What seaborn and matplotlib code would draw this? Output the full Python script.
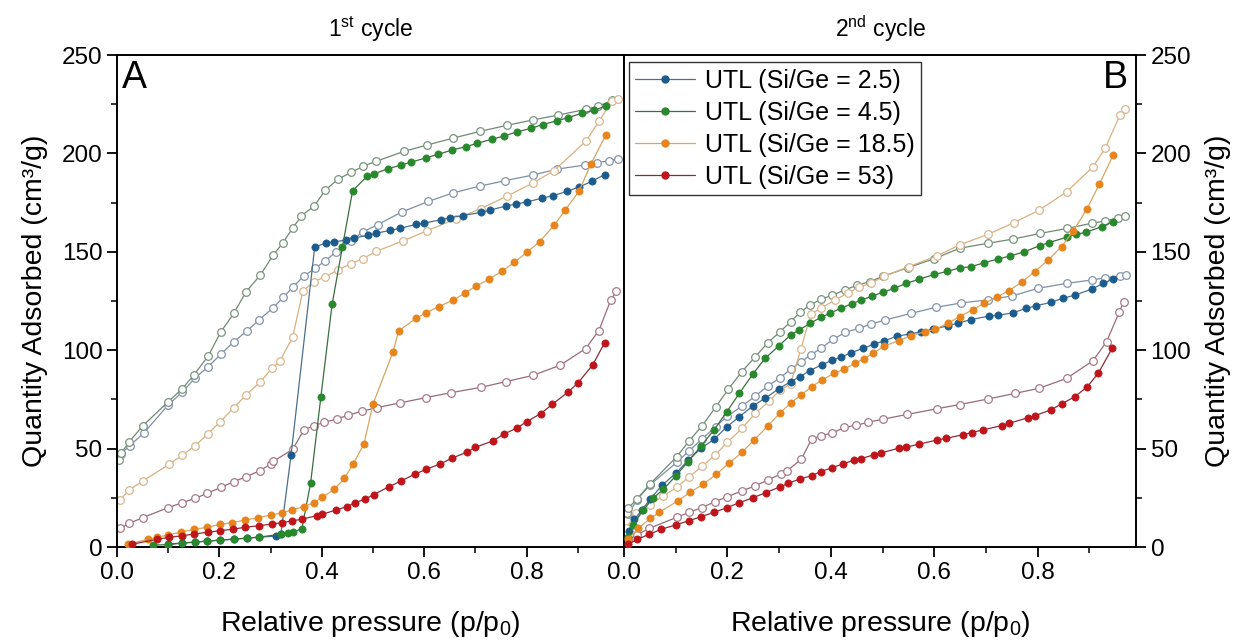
import numpy as np
import pandas as pd
import matplotlib
matplotlib.use("Agg")
import matplotlib.pyplot as plt
from matplotlib.lines import Line2D
from matplotlib.ticker import MultipleLocator
import seaborn as sns

# ---------------- data ----------------
samples = ["UTL (Si/Ge = 2.5)", "UTL (Si/Ge = 4.5)", "UTL (Si/Ge = 18.5)", "UTL (Si/Ge = 53)"]

# Panel A (1st cycle)
blue_ads_A_x = [0.10,0.127,0.153,0.176,0.202,0.228,0.254,0.277,0.31,0.32,0.34,0.386,0.409,0.424,0.447,0.463,0.49,0.505,0.534,0.552,0.584,0.60,0.633,0.65,0.675,0.71,0.729,0.76,0.779,0.80,0.829,0.851,0.879,0.903,0.927,0.952]
blue_ads_A_y = [1.5,2,2.5,3,3.5,4,4.5,5,5.5,6.5,47,152.4,154.6,155,156,157,158.4,159.4,160.9,161.9,163.9,164.6,166.3,167.3,168.4,170,171.2,173.3,174.3,175.3,177.2,178.5,180.7,183,185.8,189.2]
blue_des_A_x = [0.007,0.025,0.052,0.10,0.127,0.153,0.178,0.203,0.228,0.254,0.277,0.305,0.325,0.343,0.365,0.387,0.407,0.428,0.457,0.481,0.509,0.556,0.608,0.657,0.709,0.757,0.812,0.859,0.914,0.938,0.96,0.978]
blue_des_A_y = [47.3,51.5,57.8,72.2,78.6,86,91.6,98,104.3,109.8,115.3,121.6,126.9,132,137.7,141.6,145.5,150,155.6,160.2,163.8,170.2,175.6,180,183.4,186.1,189,192,194.1,195.3,196.3,197.3]

green_ads_A_x = [0.071,0.10,0.127,0.153,0.176,0.202,0.228,0.254,0.277,0.32,0.333,0.344,0.361,0.378,0.398,0.42,0.44,0.46,0.488,0.501,0.529,0.555,0.575,0.604,0.627,0.654,0.681,0.703,0.732,0.755,0.782,0.808,0.831,0.859,0.881,0.908,0.932,0.955]
green_ads_A_y = [1,1.2,2,2.5,3,3.5,4,4.5,5,6.5,7,7.5,9.3,32.4,76,123.3,152.2,181,188.3,189.5,192.2,194.1,195.6,197.8,199.5,201.7,203.4,205.1,207.2,208.8,211,212.7,214.6,216.6,218.2,220.4,222,224.1]
green_des_A_x = [0.004,0.008,0.024,0.05,0.10,0.127,0.15,0.178,0.203,0.228,0.252,0.28,0.305,0.324,0.343,0.36,0.385,0.407,0.432,0.457,0.481,0.506,0.56,0.606,0.657,0.709,0.762,0.812,0.862,0.916,0.939,0.967]
green_des_A_y = [44.2,47.6,53.5,61.5,73.8,80.3,87.4,97,109.4,118.7,129.7,138.2,148.4,154.6,162,168.2,173.3,181.4,187,190.3,193.5,196,201,204.3,207.8,211.2,214.3,217,219.5,222.4,223.9,227]

orange_ads_A_x = [0.022,0.061,0.078,0.10,0.124,0.15,0.176,0.202,0.225,0.25,0.276,0.301,0.323,0.341,0.365,0.384,0.401,0.424,0.444,0.461,0.482,0.50,0.539,0.55,0.584,0.604,0.628,0.656,0.679,0.701,0.726,0.751,0.776,0.80,0.825,0.854,0.875,0.902,0.925,0.955]
orange_ads_A_y = [1.5,3.9,4.9,6.1,7.5,9,10,11.5,12.4,13.7,14.9,16.3,17.4,18.8,20.5,22.5,25.2,29.3,34.9,42.2,52.2,72.7,99.1,109.8,116.2,119.1,122.1,125.4,128.9,132.6,136,140,144.7,149.7,155.1,163.6,171.2,180.7,194.4,209.6]
orange_des_A_x = [0.006,0.024,0.05,0.102,0.127,0.153,0.177,0.202,0.228,0.252,0.28,0.303,0.318,0.343,0.363,0.385,0.406,0.432,0.457,0.48,0.506,0.559,0.605,0.661,0.711,0.761,0.813,0.853,0.916,0.941,0.967,0.978]
orange_des_A_y = [23.9,29,33.5,42,46.7,51.5,57.4,63.7,70.8,77.2,84,90.8,94.5,106.6,130.2,134.8,137.3,140.8,144,146.5,150.2,155.6,160.6,166.7,172,178.2,185.1,191.2,206.3,216.3,226.8,227.4]

red_ads_A_x = [0.029,0.078,0.102,0.127,0.151,0.177,0.202,0.227,0.25,0.277,0.303,0.323,0.341,0.362,0.39,0.401,0.427,0.449,0.465,0.485,0.501,0.531,0.554,0.581,0.604,0.631,0.654,0.684,0.70,0.735,0.755,0.782,0.80,0.827,0.85,0.88,0.90,0.929,0.952]
red_ads_A_y = [1.4,3.9,4.9,5.7,6.6,7.5,8.3,9.1,10,10.8,11.7,12.4,13.2,14.2,15.9,16.6,18.8,20.5,22.5,24.4,26.6,30.6,33.5,36.9,39.5,42.2,45.1,48.3,50.7,54,57.3,60.6,63.7,67.7,72.5,78.6,83.3,92.6,103.7]
red_des_A_x = [0.006,0.024,0.05,0.10,0.127,0.153,0.176,0.203,0.228,0.252,0.279,0.301,0.305,0.343,0.365,0.385,0.405,0.429,0.452,0.478,0.507,0.552,0.603,0.652,0.71,0.759,0.812,0.865,0.915,0.941,0.964,0.975]
red_des_A_y = [9.5,12,14.9,20,22.5,24.7,27.3,30.3,33.2,35.7,38.8,42.2,43.5,49.6,59.5,61.7,63.4,65,67,69,70.8,73.2,75.9,78.4,81.1,84,87.2,92.3,100.8,110,125.4,130]

# Panel B (2nd cycle)
blue_ads_B_x = [0.01,0.02,0.035,0.051,0.074,0.10,0.124,0.149,0.174,0.199,0.223,0.249,0.273,0.299,0.322,0.341,0.359,0.382,0.403,0.419,0.439,0.463,0.483,0.503,0.528,0.553,0.574,0.597,0.626,0.645,0.67,0.705,0.723,0.752,0.778,0.796,0.825,0.849,0.872,0.905,0.927,0.946]
blue_ads_B_y = [8,14,19,24.4,31.5,37.4,44,50.2,54.7,61.1,66.2,71.6,75.6,80.3,84,86.6,89.6,92.5,95,96.4,98.7,101,103,104.7,107.2,108.2,109.4,110.6,112.4,113.7,115.5,117.3,117.7,119,121.3,122.5,124.3,126.4,128,131.1,134,136.2]
blue_des_B_x = [0.008,0.025,0.05,0.102,0.126,0.151,0.177,0.20,0.228,0.254,0.278,0.302,0.322,0.342,0.361,0.381,0.404,0.428,0.454,0.477,0.504,0.555,0.603,0.652,0.704,0.751,0.80,0.857,0.905,0.931,0.959,0.971]
blue_des_B_y = [16.6,24,31.5,43,48.9,54.9,61.1,66.5,71.6,76.7,81.8,86,90.3,94,97.6,101,105.5,109.1,111.1,113.2,115.3,118.7,121.8,124,125.6,127.6,131.4,134,135.7,136.8,137.7,138.2]

green_ads_B_x = [0.008,0.017,0.037,0.056,0.076,0.10,0.124,0.149,0.174,0.199,0.223,0.249,0.273,0.299,0.322,0.339,0.36,0.381,0.398,0.419,0.44,0.459,0.48,0.50,0.522,0.546,0.57,0.60,0.625,0.649,0.671,0.697,0.723,0.747,0.773,0.804,0.822,0.856,0.874,0.893,0.924,0.945]
green_ads_B_y = [5,11.2,18.8,24.7,29.3,36.1,43.4,51.3,59.5,68.8,78.1,87.8,95.9,102.1,107.7,110.3,113.7,116.7,118.7,121.3,123.5,125.5,127.5,129.4,131.4,134,136,138.5,140,141.9,142.4,144.5,146.3,147.9,149.9,153.1,154.7,157.4,158.9,159.9,162.8,165.3]
green_des_B_x = [0.005,0.008,0.025,0.05,0.102,0.126,0.151,0.177,0.202,0.228,0.254,0.278,0.302,0.322,0.341,0.36,0.381,0.403,0.427,0.451,0.475,0.50,0.55,0.60,0.649,0.703,0.753,0.804,0.857,0.904,0.93,0.956,0.968]
green_des_B_y = [17.1,19.7,24.4,31.9,45.9,53.9,61.6,71,80.3,89.1,96.7,103.8,109.4,114.5,119.3,123,125.9,128,130.6,133.1,134.8,137.5,142,146.5,151.8,154.3,156.5,159.3,161.9,164.5,165.6,167.3,168.3]

orange_ads_B_x = [0.008,0.028,0.051,0.068,0.104,0.128,0.153,0.178,0.203,0.228,0.252,0.278,0.302,0.323,0.342,0.363,0.383,0.407,0.425,0.446,0.464,0.482,0.503,0.531,0.555,0.582,0.602,0.626,0.649,0.674,0.697,0.722,0.744,0.77,0.794,0.82,0.846,0.869,0.895,0.919,0.946]
orange_ads_B_y = [4,9.5,14.6,17.6,23.4,27.8,31.9,36.9,42.5,48.1,54.5,61.5,68.2,73.3,77.2,81.5,84.9,88.3,90.3,93.3,95.7,98.4,102.1,104.8,107.4,109.4,110.6,113.7,117,120.6,123.8,127.2,130.2,134.8,139.9,145.8,152.6,160.7,171.7,184.3,199.2]
orange_des_B_x = [0.004,0.024,0.05,0.076,0.102,0.126,0.151,0.176,0.20,0.228,0.254,0.28,0.302,0.322,0.342,0.361,0.38,0.408,0.434,0.454,0.477,0.503,0.551,0.606,0.649,0.704,0.754,0.803,0.856,0.907,0.931,0.959,0.969]
orange_des_B_y = [9.5,17.1,21.3,26,30.3,35.7,41,46.7,53.2,60.3,67.9,74,79.8,82.8,100.6,118.2,121.3,125.5,129.2,132,134,137.5,142.5,148,153.5,158.9,164.8,171.2,180.5,193.2,202.9,219.5,222.6]

red_ads_B_x = [0.008,0.026,0.048,0.072,0.10,0.126,0.149,0.174,0.199,0.223,0.249,0.274,0.302,0.318,0.341,0.363,0.38,0.403,0.423,0.445,0.458,0.484,0.497,0.531,0.545,0.571,0.606,0.623,0.656,0.672,0.694,0.73,0.744,0.781,0.794,0.825,0.846,0.872,0.896,0.917,0.944]
red_ads_B_y = [1.4,3.9,6.4,9,11.2,13.4,15.4,17.6,20,22.5,25,27.6,30.6,32.4,34.7,36.2,38.3,40.3,42.2,44.1,44.9,46.9,47.8,50.2,50.7,52.3,54.4,55.2,57.1,58.1,59.5,61.7,62.8,65.7,66.7,69.6,72.7,76.4,81.5,88.3,101]
red_des_B_x = [0.008,0.025,0.049,0.102,0.126,0.15,0.176,0.20,0.228,0.254,0.278,0.303,0.315,0.343,0.363,0.381,0.403,0.426,0.449,0.472,0.50,0.548,0.606,0.649,0.704,0.757,0.802,0.856,0.907,0.933,0.958,0.966]
red_des_B_y = [3.6,6.1,9.5,15.1,17.6,20,23,25.6,28.5,31.1,34,37.1,38.6,44.7,54.9,56.6,57.9,60.8,61.8,63.4,64.9,67.4,70.3,72.4,75.2,78.1,80.6,85.7,94.7,104.3,119.6,124.6]

# ---------------- styles ----------------
ads_marker = ["#1a5c8e", "#27892b", "#e8841c", "#c0141b"]
ads_line = ["#4b6f8c", "#3b6e3f", "#d9a561", "#8e2a33"]
des_edge = ["#8494ab", "#7a9580", "#d9b78f", "#a87a88"]
des_line = ["#7f8fa6", "#6f8a74", "#d9b07e", "#9a6a78"]

sns.set_theme(style="ticks")
plt.rcParams["font.family"] = ["Liberation Sans", "DejaVu Sans"]
plt.rcParams["mathtext.default"] = "regular"
for k in ("text.color", "axes.labelcolor", "xtick.color", "ytick.color", "axes.edgecolor"):
    plt.rcParams[k] = "black"

fig = plt.figure(figsize=(12.43, 6.4), dpi=100)
axA = fig.add_axes([117/1243, 93/640, 507/1243, 492/640])
axB = fig.add_axes([624/1243, 93/640, 512/1243, 492/640])

panelA = [
    (blue_ads_A_x, blue_ads_A_y, blue_des_A_x, blue_des_A_y),
    (green_ads_A_x, green_ads_A_y, green_des_A_x, green_des_A_y),
    (orange_ads_A_x, orange_ads_A_y, orange_des_A_x, orange_des_A_y),
    (red_ads_A_x, red_ads_A_y, red_des_A_x, red_des_A_y),
]
panelB = [
    (blue_ads_B_x, blue_ads_B_y, blue_des_B_x, blue_des_B_y),
    (green_ads_B_x, green_ads_B_y, green_des_B_x, green_des_B_y),
    (orange_ads_B_x, orange_ads_B_y, orange_des_B_x, orange_des_B_y),
    (red_ads_B_x, red_ads_B_y, red_des_B_x, red_des_B_y),
]

for ax, panel in ((axA, panelA), (axB, panelB)):
    for i, (ax_x, ax_y, dx, dy) in enumerate(panel):
        sns.lineplot(x=dx, y=dy, ax=ax, estimator=None, sort=False,
                     color=des_line[i], lw=0.9, marker="o", markersize=5.5,
                     markerfacecolor="white", markeredgecolor=des_edge[i],
                     markeredgewidth=0.9, zorder=2)
        sns.lineplot(x=ax_x, y=ax_y, ax=ax, estimator=None, sort=False,
                     color=ads_line[i], lw=0.9, marker="o", markersize=5.2,
                     markerfacecolor=ads_marker[i], markeredgecolor=ads_marker[i],
                     markeredgewidth=0.5, zorder=3)

for ax in (axA, axB):
    ax.set_xlim(0, 0.99)
    ax.set_ylim(0, 250)
    ax.xaxis.set_minor_locator(MultipleLocator(0.1))
    ax.yaxis.set_major_locator(MultipleLocator(50))
    ax.yaxis.set_minor_locator(MultipleLocator(25))
    ax.set_xticks([0, 0.2, 0.4, 0.6, 0.8])
    ax.set_xticklabels(["0.0", "0.2", "0.4", "0.6", "0.8"])
    for s in ax.spines.values():
        s.set_visible(True)
        s.set_color("black")
        s.set_linewidth(1.4)
    ax.tick_params(which="major", direction="out", length=7, width=1.3, labelsize=17.5, colors="black")
    ax.tick_params(which="minor", direction="out", length=4, width=1.1, colors="black")
    ax.set_xlabel("Relative pressure (p/p$_{0}$)", fontsize=20.5, labelpad=18)

axA.tick_params(axis="y", which="both", left=True, right=False)
axA.tick_params(axis="x", which="both", top=False)
axA.set_ylabel("Quantity Adsorbed (cm³/g)", fontsize=20.5, labelpad=10)

axB.yaxis.tick_right()
axB.yaxis.set_label_position("right")
axB.tick_params(axis="y", which="both", left=False, right=True)
axB.set_ylabel("Quantity Adsorbed (cm³/g)", fontsize=20.5, labelpad=10, rotation=90)

axA.set_title("1$^{st}$ cycle", fontsize=16.5, pad=13)
axB.set_title("2$^{nd}$ cycle", fontsize=16.5, pad=13)

axA.text(0.01, 0.99, "A", transform=axA.transAxes, fontsize=27, va="top", ha="left")
axB.text(0.985, 0.99, "B", transform=axB.transAxes, fontsize=27, va="top", ha="right")

handles = [Line2D([0], [0], color=ads_line[i], lw=0.9, marker="o", markersize=5,
                  markerfacecolor=ads_marker[i], markeredgecolor=ads_marker[i])
           for i in range(4)]
leg = axB.legend(handles, samples, loc="upper left", bbox_to_anchor=(0.005, 0.99),
                 fontsize=18, frameon=True, fancybox=False, framealpha=1,
                 edgecolor="#333333", handlelength=2.4, handletextpad=0.4,
                 labelspacing=0.32, borderpad=0.25, borderaxespad=0.1)
leg.get_frame().set_linewidth(1.0)

fig.savefig("out.png", dpi=100)
